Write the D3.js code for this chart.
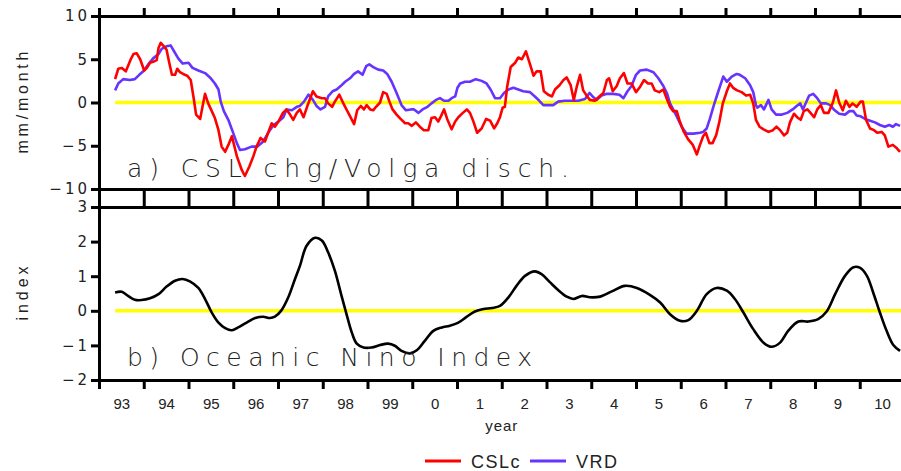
<!DOCTYPE html>
<html>
<head>
<meta charset="utf-8">
<script src="https://cdn.jsdelivr.net/npm/d3@7"></script>
<style>
  body { margin: 0; background: #fff; }
  svg { display: block; font-family: "Liberation Sans", "DejaVu Sans", sans-serif; }
  .axis path, .axis line { stroke: #000; stroke-width: 3; }
  .axis text { font-size: 15px; fill: #222; }
  .yaxis text { font-size: 15px; letter-spacing: 3px; font-family: "DejaVu Sans", sans-serif; }
</style>
</head>
<body>
<div id="chart"></div>
<script>
// CSLc (Caspian sea level change), mm/month
var cslcTime = [1993.36,1993.43,1993.51,1993.60,1993.71,1993.77,1993.84,1993.92,1994.01,1994.07,1994.14,1994.21,1994.29,1994.33,1994.38,1994.45,1994.51,1994.57,1994.63,1994.70,1994.75,1994.81,1994.88,1994.97,1995.05,1995.11,1995.17,1995.26,1995.32,1995.37,1995.44,1995.52,1995.59,1995.67,1995.74,1995.82,1995.89,1995.97,1996.08,1996.19,1996.26,1996.36,1996.45,1996.52,1996.61,1996.71,1996.78,1996.86,1996.93,1997.01,1997.11,1997.19,1997.27,1997.34,1997.42,1997.49,1997.57,1997.65,1997.78,1997.86,1997.98,1998.05,1998.12,1998.21,1998.27,1998.37,1998.46,1998.55,1998.62,1998.70,1998.77,1998.85,1998.92,1998.98,1999.06,1999.13,1999.19,1999.28,1999.35,1999.43,1999.49,1999.56,1999.65,1999.74,1999.84,1999.91,1999.99,2000.08,2000.17,2000.26,2000.36,2000.43,2000.51,2000.58,2000.64,2000.71,2000.78,2000.88,2000.96,2001.03,2001.13,2001.22,2001.29,2001.36,2001.45,2001.55,2001.65,2001.74,2001.83,2001.90,2001.96,2002.02,2002.07,2002.12,2002.20,2002.30,2002.37,2002.45,2002.54,2002.62,2002.71,2002.78,2002.87,2002.94,2003.04,2003.12,2003.19,2003.29,2003.38,2003.45,2003.54,2003.61,2003.68,2003.75,2003.82,2003.91,2003.97,2004.08,2004.18,2004.27,2004.35,2004.40,2004.48,2004.57,2004.64,2004.73,2004.81,2004.90,2005.00,2005.09,2005.18,2005.27,2005.35,2005.42,2005.52,2005.61,2005.69,2005.76,2005.83,2005.91,2005.98,2006.07,2006.17,2006.27,2006.36,2006.43,2006.50,2006.56,2006.64,2006.71,2006.79,2006.86,2006.94,2007.03,2007.10,2007.17,2007.26,2007.36,2007.46,2007.55,2007.62,2007.68,2007.76,2007.85,2007.96,2008.06,2008.14,2008.22,2008.31,2008.38,2008.44,2008.53,2008.60,2008.68,2008.75,2008.83,2008.90,2008.98,2009.05,2009.13,2009.20,2009.30,2009.40,2009.47,2009.54,2009.62,2009.69,2009.77,2009.84,2009.93,2010.02,2010.07,2010.14,2010.23,2010.32,2010.39,2010.49,2010.56,2010.64,2010.74,2010.83,2010.90];
var cslcValues = [2.7,3.9,4.0,3.6,5.0,5.6,5.7,5.0,3.7,4.0,4.6,4.7,4.9,6.3,6.9,6.5,6.1,4.6,3.2,3.2,3.9,3.5,3.3,3.1,2.6,0.7,-1.4,-1.9,-0.3,1.0,-0.1,-1.0,-1.8,-3.2,-5.1,-5.7,-4.9,-3.9,-6.2,-7.8,-8.5,-7.4,-6.2,-5.1,-4.1,-4.5,-3.5,-2.4,-2.8,-2.2,-1.2,-0.8,-1.4,-2.0,-1.2,-0.8,-1.7,-0.5,1.3,0.7,0.5,0.5,-0.1,-0.5,0.1,0.9,-0.1,-1.0,-1.7,-2.5,-0.9,-0.4,-0.8,-0.3,-0.8,-0.9,-0.5,0.0,1.2,1.0,0.1,-0.8,-1.4,-1.9,-2.4,-2.4,-2.7,-2.3,-2.8,-3.2,-3.2,-1.8,-1.7,-2.2,-1.6,-0.8,-1.9,-3.1,-2.2,-1.7,-1.2,-0.8,-1.2,-2.1,-3.5,-3.0,-1.9,-2.1,-3.0,-2.4,-1.7,-0.6,-0.5,1.8,4.1,4.6,5.2,5.0,5.9,4.6,3.1,3.6,3.6,1.3,0.9,0.7,1.5,2.0,2.6,2.9,2.0,0.3,1.9,3.2,1.4,0.7,0.3,0.2,0.7,1.1,2.6,2.8,1.3,1.9,2.8,3.4,2.2,2.2,1.2,1.8,2.6,2.2,2.2,1.4,1.2,1.5,0.4,-0.5,-1.0,-1.0,-2.2,-3.4,-4.3,-4.9,-6.0,-4.9,-3.9,-3.5,-4.7,-4.7,-3.8,-2.3,-0.1,1.3,2.2,1.7,1.4,1.2,0.8,0.9,-0.1,-2.0,-2.8,-3.1,-3.4,-3.2,-2.8,-3.2,-3.8,-3.5,-2.3,-1.3,-1.7,-2.0,-1.0,-0.8,-1.2,-1.7,-0.8,-0.3,-1.2,-1.2,0.0,1.4,0.0,-0.9,0.2,-0.5,-0.1,-0.5,0.1,0.1,-2.0,-3.0,-3.2,-3.5,-3.4,-3.8,-5.1,-4.9,-5.3,-5.7];

// VRD (Volga river discharge), mm/month
var vrdTime = [1993.36,1993.43,1993.54,1993.69,1993.80,1993.90,1993.99,1994.10,1994.21,1994.33,1994.40,1994.51,1994.60,1994.68,1994.77,1994.87,1995.00,1995.09,1995.22,1995.37,1995.48,1995.59,1995.67,1995.72,1995.79,1995.89,1995.99,1996.08,1996.15,1996.26,1996.41,1996.54,1996.67,1996.78,1996.90,1997.01,1997.12,1997.19,1997.31,1997.42,1997.49,1997.58,1997.68,1997.78,1997.86,1997.95,1998.05,1998.12,1998.22,1998.31,1998.40,1998.50,1998.61,1998.70,1998.79,1998.89,1998.97,1999.04,1999.13,1999.24,1999.35,1999.44,1999.54,1999.65,1999.76,1999.86,1999.97,2000.04,2000.14,2000.23,2000.34,2000.43,2000.53,2000.62,2000.71,2000.81,2000.88,2000.96,2001.01,2001.07,2001.18,2001.29,2001.42,2001.55,2001.66,2001.75,2001.85,2001.96,2002.05,2002.15,2002.26,2002.37,2002.48,2002.63,2002.74,2002.84,2002.93,2003.04,2003.15,2003.26,2003.41,2003.56,2003.71,2003.86,2003.96,2004.03,2004.12,2004.23,2004.35,2004.49,2004.63,2004.72,2004.81,2004.90,2005.00,2005.09,2005.24,2005.39,2005.50,2005.60,2005.69,2005.76,2005.83,2005.91,2006.02,2006.13,2006.28,2006.43,2006.50,2006.58,2006.65,2006.74,2006.84,2006.95,2007.03,2007.14,2007.25,2007.32,2007.44,2007.55,2007.62,2007.68,2007.71,2007.79,2007.86,2007.96,2008.03,2008.13,2008.26,2008.38,2008.50,2008.59,2008.67,2008.73,2008.80,2008.87,2008.96,2009.05,2009.13,2009.25,2009.34,2009.42,2009.54,2009.67,2009.77,2009.86,2009.93,2010.02,2010.12,2010.23,2010.34,2010.45,2010.56,2010.66,2010.74,2010.81,2010.90];
var vrdValues = [1.4,2.2,2.7,2.6,2.7,3.2,3.6,4.4,5.1,5.6,6.2,6.5,6.6,5.9,5.1,4.5,4.6,4.0,3.7,3.4,2.9,2.2,1.5,0.1,-1.0,-2.0,-3.4,-4.7,-5.5,-5.4,-5.1,-5.1,-4.5,-3.5,-2.6,-2.2,-1.7,-0.8,-0.9,-0.5,-0.4,0.1,0.9,0.3,-0.4,-0.8,-0.5,0.7,1.3,1.5,1.9,2.4,2.8,3.3,3.6,3.2,4.2,4.4,4.1,3.8,3.7,3.3,2.4,1.1,-0.3,-0.9,-0.8,-0.8,-1.2,-0.8,-0.5,-0.1,0.3,0.5,0.2,0.2,0.5,0.7,1.7,2.2,2.4,2.4,2.7,2.5,2.2,1.5,0.5,0.5,1.1,1.5,1.7,1.5,1.3,1.2,0.7,0.2,-0.3,-0.3,-0.3,0.1,0.2,0.2,0.2,0.4,1.1,0.7,0.3,0.8,1.0,1.0,0.9,0.5,1.3,1.9,3.2,3.7,3.8,3.5,2.8,2.0,1.1,-0.1,-0.8,-1.6,-2.8,-3.6,-3.6,-3.5,-3.4,-3.0,-1.9,-0.3,1.3,3.0,2.4,3.0,3.3,3.2,2.8,2.0,1.2,-0.3,-0.6,-0.3,-0.8,0.3,-0.8,-1.4,-1.4,-1.2,-0.8,-0.4,-0.1,-0.8,0.0,0.8,1.0,0.5,-0.1,-0.1,-0.3,-0.8,-1.3,-1.4,-1.0,-1.0,-1.5,-1.6,-1.9,-2.1,-2.3,-2.6,-2.8,-2.6,-2.8,-2.5,-2.7];

// Oceanic Nino Index
var oniTime = [1993.36,1993.51,1993.65,1993.80,1993.95,1994.14,1994.33,1994.51,1994.70,1994.87,1995.03,1995.22,1995.37,1995.52,1995.67,1995.82,1995.97,1996.11,1996.30,1996.49,1996.67,1996.82,1996.93,1997.08,1997.23,1997.38,1997.49,1997.64,1997.83,1997.98,1998.12,1998.27,1998.42,1998.54,1998.65,1998.76,1998.91,1999.09,1999.28,1999.46,1999.61,1999.76,1999.95,2000.10,2000.28,2000.47,2000.66,2000.84,2001.03,2001.22,2001.40,2001.59,2001.78,2001.96,2002.15,2002.33,2002.52,2002.74,2002.89,2003.08,2003.26,2003.45,2003.60,2003.79,2003.97,2004.20,2004.46,2004.75,2005.02,2005.31,2005.54,2005.76,2005.98,2006.17,2006.36,2006.58,2006.80,2007.03,2007.21,2007.40,2007.62,2007.85,2008.03,2008.22,2008.40,2008.63,2008.85,2009.07,2009.26,2009.45,2009.67,2009.86,2010.01,2010.16,2010.30,2010.45,2010.60,2010.75,2010.90];
var oniValues = [0.53,0.55,0.43,0.32,0.31,0.36,0.48,0.70,0.87,0.92,0.85,0.66,0.34,-0.05,-0.34,-0.50,-0.56,-0.48,-0.34,-0.21,-0.17,-0.21,-0.17,0.02,0.39,0.92,1.30,1.88,2.11,2.03,1.69,1.16,0.43,-0.14,-0.63,-0.95,-1.06,-1.06,-0.99,-0.95,-1.01,-1.16,-1.23,-1.14,-0.87,-0.58,-0.48,-0.43,-0.34,-0.17,-0.02,0.05,0.08,0.14,0.39,0.72,1.01,1.14,1.06,0.82,0.60,0.41,0.34,0.43,0.39,0.41,0.56,0.72,0.66,0.46,0.24,-0.10,-0.29,-0.27,0.00,0.48,0.66,0.58,0.34,-0.05,-0.53,-0.92,-1.04,-0.92,-0.58,-0.31,-0.31,-0.24,-0.02,0.48,1.01,1.26,1.24,1.01,0.53,-0.05,-0.58,-0.99,-1.16];

var yearTicks = d3.range(1993, 2012);
var yearLabels = d3.range(1993, 2011);
var topTicks = [10, 5, 0, -5, -10];
var bottomTicks = [3, 2, 1, 0, -1, -2];

var width = 901,
    height = 471;

var svg = d3.select('#chart')
    .append('svg')
    .attr('width', width)
    .attr('height', height);

var x = d3.scaleLinear().domain([1993, 2011]).range([99, 904.5]);
var yTop = d3.scaleLinear().domain([-10, 10]).range([189, 16]);
var yBot = d3.scaleLinear().domain([-2, 3]).range([380, 207]);

function pairs(t, v) {
    return t.map(function(d, i) { return [d, v[i]]; });
}

// zero lines (yellow)
svg.append('line')
    .attr('x1', x(cslcTime[0])).attr('x2', x(2011))
    .attr('y1', yTop(0)).attr('y2', yTop(0))
    .attr('stroke', '#ffff00').attr('stroke-width', 3.5);
svg.append('line')
    .attr('x1', x(oniTime[0])).attr('x2', x(2011))
    .attr('y1', yBot(0)).attr('y2', yBot(0))
    .attr('stroke', '#ffff00').attr('stroke-width', 3.5);

var lineTop = d3.line()
    .x(function(d) { return x(d[0]); })
    .y(function(d) { return yTop(d[1]); });

var lineBot = d3.line()
    .curve(d3.curveCatmullRom.alpha(0.5))
    .x(function(d) { return x(d[0]); })
    .y(function(d) { return yBot(d[1]); });

svg.append('path')
    .attr('d', lineTop(pairs(vrdTime, vrdValues)))
    .attr('fill', 'none').attr('stroke', '#6633ff').attr('stroke-width', 2.6)
    .attr('stroke-linejoin', 'round');
svg.append('path')
    .attr('d', lineTop(pairs(cslcTime, cslcValues)))
    .attr('fill', 'none').attr('stroke', '#ff0000').attr('stroke-width', 2.6)
    .attr('stroke-linejoin', 'round');
svg.append('path')
    .attr('d', lineBot(pairs(oniTime, oniValues)))
    .attr('fill', 'none').attr('stroke', '#000').attr('stroke-width', 2.6);

// frames and ticks
function noLabel() { return ''; }

svg.append('g').attr('class', 'axis')
    .attr('transform', 'translate(0,16)')
    .call(d3.axisTop(x).tickValues(yearTicks).tickSize(8).tickSizeOuter(0).tickFormat(noLabel));
svg.append('g').attr('class', 'axis')
    .attr('transform', 'translate(0,189)')
    .call(d3.axisBottom(x).tickValues(yearTicks).tickSize(9).tickSizeOuter(0).tickFormat(noLabel));
svg.append('g').attr('class', 'axis')
    .attr('transform', 'translate(0,207)')
    .call(d3.axisTop(x).tickValues(yearTicks).tickSize(9).tickSizeOuter(0).tickFormat(noLabel));
svg.append('g').attr('class', 'axis')
    .attr('transform', 'translate(0,380)')
    .call(d3.axisBottom(x).tickValues(yearTicks).tickSize(9).tickSizeOuter(0).tickFormat(noLabel));

// year labels centred in each year
var labelAxis = svg.append('g').attr('class', 'axis')
    .attr('transform', 'translate(0,380)')
    .call(d3.axisBottom(x).tickValues(yearLabels.map(function(d) { return d + 0.5; }))
        .tickSize(0).tickPadding(18)
        .tickFormat(function(d) { return String(Math.floor(d) % 100); }));
labelAxis.select('.domain').remove();

svg.append('g').attr('class', 'axis yaxis')
    .attr('transform', 'translate(99,0)')
    .call(d3.axisLeft(yTop).tickValues(topTicks).tickSize(8).tickSizeOuter(0)
        .tickPadding(1).tickFormat(d3.format('d')));
svg.append('g').attr('class', 'axis yaxis')
    .attr('transform', 'translate(99,0)')
    .call(d3.axisLeft(yBot).tickValues(bottomTicks).tickSize(8).tickSizeOuter(0)
        .tickPadding(1).tickFormat(d3.format('d')));

svg.selectAll('.axis .domain').attr('stroke-linecap', 'square');

// axis titles
svg.append('text')
    .attr('transform', 'translate(28,' + (16 + 189) / 2 + ') rotate(-90)')
    .attr('text-anchor', 'middle')
    .attr('font-size', 16).attr('fill', '#222')
    .attr('textLength', 102).attr('lengthAdjust', 'spacing')
    .text('mm/month');
svg.append('text')
    .attr('transform', 'translate(28,' + (207 + 380) / 2 + ') rotate(-90)')
    .attr('text-anchor', 'middle')
    .attr('font-size', 16).attr('fill', '#222')
    .attr('textLength', 54).attr('lengthAdjust', 'spacing')
    .text('index');
svg.append('text')
    .attr('x', x(2002)).attr('y', 431)
    .attr('text-anchor', 'middle')
    .attr('font-size', 15).attr('fill', '#222').attr('letter-spacing', 1)
    .text('year');

// panel titles
svg.append('text')
    .attr('x', 127).attr('y', 177)
    .attr('font-family', '"DejaVu Sans", sans-serif').attr('font-weight', 300)
    .attr('font-size', 25).attr('fill', '#222')
    .attr('textLength', 442).attr('lengthAdjust', 'spacing')
    .text('a) CSL chg/Volga disch.');
svg.append('text')
    .attr('x', 127).attr('y', 366)
    .attr('font-family', '"DejaVu Sans", sans-serif').attr('font-weight', 300)
    .attr('font-size', 25).attr('fill', '#222')
    .attr('textLength', 405).attr('lengthAdjust', 'spacing')
    .text('b) Oceanic Nino Index');

// legend
var legend = [
    {label: 'CSLc', color: '#ff0000', x: 425},
    {label: 'VRD', color: '#6633ff', x: 530}
];
var lg = svg.selectAll('.legend')
    .data(legend)
    .enter()
    .append('g')
    .attr('class', 'legend')
    .attr('transform', function(d) { return 'translate(' + d.x + ',461)'; });
lg.append('line')
    .attr('x1', 0).attr('x2', 36)
    .attr('stroke', function(d) { return d.color; })
    .attr('stroke-width', 3);
lg.append('text')
    .attr('x', 46).attr('y', 7)
    .attr('font-size', 18).attr('fill', '#222').attr('letter-spacing', 1.5)
    .text(function(d) { return d.label; });
</script>
</body>
</html>
